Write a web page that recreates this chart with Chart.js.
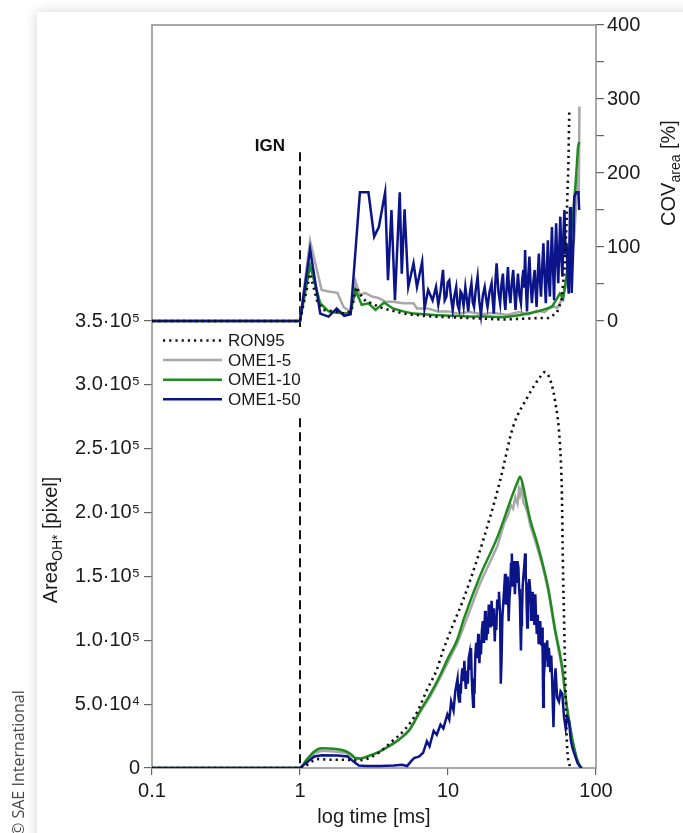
<!DOCTYPE html>
<html>
<head>
<meta charset="utf-8">
<script src="https://cdn.jsdelivr.net/npm/chart.js@4"></script>
<style>
  html, body { margin: 0; padding: 0; background: #fff; }
  #wrap { position: relative; width: 683px; height: 833px; overflow: hidden; background: #fff; }
  #card { position: absolute; left: 37px; top: 12px; width: 720px; height: 900px; background: #fff;
          box-shadow: 0 0 12px rgba(0, 0, 0, 0.17); }
  #chart { position: absolute; left: 0; top: 0; }
  #copy { position: absolute; left: 28px; bottom: -3px; transform-origin: left bottom; transform: rotate(-90deg);
          white-space: nowrap; font: 16px "Open Sans", sans-serif; line-height: 20px; color: #4a4a4a; }
</style>
</head>
<body>
<div id="wrap">
  <div id="card"></div>
  <canvas id="chart" width="683" height="833"></canvas>
  <div id="copy">© SAE International</div>
</div>
<script>
// Осі
const timeTicks = [0.1, 1, 10, 100];
const timeTickLabels = ['0.1', '1', '10', '100'];
const areaTicks = [0, 50000, 100000, 150000, 200000, 250000, 300000, 350000];
const areaTickLabels = ['0', '5.0·10⁴', '1.0·10⁵', '1.5·10⁵', '2.0·10⁵', '2.5·10⁵', '3.0·10⁵', '3.5·10⁵'];
const covTicks = [0, 50, 100, 150, 200, 250, 300, 350, 400];
const covTickLabels = ['0', '', '100', '', '200', '', '300', '', '400'];
const seriesNames = ['RON95', 'OME1-5', 'OME1-10', 'OME1-50'];
const ignTime = 1;
const ignLineTop = 228;

// Area OH* [pixel]
const ron95AreaTime = [0.1, 1.0, 1.1, 1.2, 1.3, 1.6, 2.0, 2.4, 2.8, 3.4, 4.2, 5.1, 6.2, 7.2, 8.4, 9.2, 10.8, 12.6, 15.7, 19.2, 22.5, 27.5, 34.3, 41.8, 45, 49, 52.8, 57, 58.8, 59.7, 61, 62.3, 63.6, 66.7];
const ron95Area = [0, 0, 2000, 5000, 7000, 6500, 6500, 6000, 7000, 12000, 21000, 30000, 44000, 61000, 77000, 91000, 112000, 131000, 163000, 196000, 225000, 267000, 290000, 306000, 310000, 304000, 288000, 254000, 215000, 163000, 110000, 59000, 20000, 0];

const ome5AreaTime = [0.1, 1, 1.1, 1.25, 1.4, 1.7, 2.0, 2.2, 2.35, 2.55, 2.9, 3.4, 4.0, 4.7, 5.5, 6.5, 7.6, 8.8, 10, 11.5, 13, 16.4, 21.6, 24, 25.5, 26.5, 27.5, 28.5, 29.5, 30.2, 30.7, 31.5, 32.3, 33.5, 34.5, 36, 39.6, 44, 47.7, 52.8, 58.9, 63.6, 69, 74, 78, 80];
const ome5Area = [0, 0, 5000, 11500, 13500, 13000, 12000, 10000, 7500, 7500, 9000, 12500, 17500, 22500, 30000, 44000, 56000, 70000, 83000, 97000, 113000, 144000, 174000, 192000, 198000, 206000, 203000, 212000, 207000, 218000, 214000, 220000, 208000, 204000, 200000, 190000, 175000, 156000, 138000, 107000, 78000, 46000, 22000, 7000, 1000, 0];

const ome10AreaTime = [0.1, 1, 1.1, 1.25, 1.4, 1.7, 2.0, 2.2, 2.35, 2.55, 2.9, 3.4, 4.0, 4.7, 5.5, 6.5, 7.6, 8.8, 10, 11.5, 12.9, 16.4, 21.6, 27.5, 29.5, 30.7, 32, 34, 36, 39.6, 44, 47.7, 52.8, 58.9, 63.6, 69, 74, 78, 80];
const ome10Area = [0, 0, 6000, 13000, 15500, 15000, 13500, 11000, 8000, 7500, 9500, 12500, 17000, 22500, 30000, 45000, 58000, 72000, 86000, 100000, 118000, 150000, 181000, 215000, 224000, 228000, 222000, 207000, 194000, 178000, 158000, 140000, 109000, 80000, 48000, 23500, 8000, 1500, 0];

const ome50AreaTime = [
  0.1, 1.0, 1.1, 1.25, 1.4, 1.8, 2.1, 2.3, 2.5, 2.8, 3.5, 4.3, 4.9, 5.3, 5.6, 5.9, 6.4, 6.8, 7.2, 7.5,
  8.0, 8.4, 8.9, 9.3, 9.9, 10.2, 10.5, 10.9, 11.2,
  11.6, 11.75, 11.9, 12.05, 12.2, 12.35, 12.5, 12.7, 12.9, 13.05,
  13.2, 13.4, 13.6, 13.8, 14.0, 14.15, 14.3, 14.45, 14.6, 14.8,
  14.95, 15.1, 15.3, 15.5, 15.75, 16.0, 16.15, 16.3, 16.5, 16.7,
  16.95, 17.2, 17.5, 17.8, 18.0, 18.2, 18.4, 18.6, 18.85, 19.1,
  19.4, 19.7, 19.95, 20.2, 20.45, 20.7, 20.95, 21.2, 21.5, 21.8,
  22.1, 22.5, 22.65, 22.8, 23.0, 23.3, 23.6, 23.95, 24.3, 24.6,
  24.9, 25.3, 25.7, 26.0, 26.3, 26.65, 27.0, 27.3, 27.6, 27.95,
  28.3, 28.65, 29.0, 29.45, 29.9, 30.25, 30.6, 30.85, 31.1, 31.35,
  31.6, 31.95, 32.3, 32.75, 33.2, 33.5, 33.8, 34.05, 34.3, 34.65,
  35.0, 35.45, 35.9, 36.4, 36.9, 37.35, 37.8, 38.35, 38.9, 39.35,
  39.8, 40.4, 41.0, 41.5, 42.0, 42.6, 43.2, 43.6, 44.0, 44.4,
  44.8, 45.2, 45.6, 46.2, 46.8, 47.4, 48.0, 48.6, 49.2, 49.85,
  50.5,
  51.6, 52.4, 53.3, 54.6, 56.2, 57.6, 59.2, 60.8, 62.4, 64.0, 65.7, 67.5, 69.3, 71.0, 73.0, 75.0, 77.0, 80.0
];
const ome50Area = [
  0, 0, 4000, 9000, 10000, 9800, 9000, 5000, 2000, 1500, 1500, 2000, 2500, 1500, 5000, 7800, 9000, 12000, 21000, 17000,
  29000, 26000, 34000, 31000, 42000, 38000, 52000, 45000, 60000,
  70000, 56000, 52000, 66000, 58000, 72000, 78000, 68000, 84000, 70000,
  62000, 76000, 66000, 86000, 90000, 78000, 94000, 72000, 60000, 48000,
  70000, 58000, 88000, 98000, 86000, 105000, 90000, 82000, 100000, 89000,
  108000, 115000, 98000, 123000, 110000, 100000, 118000, 105000, 128000, 122000,
  110000, 131000, 118000, 112000, 125000, 99000, 118000, 108000, 132000, 125000,
  138000, 120000, 95000, 66000, 84000, 118000, 128000, 140000, 152000, 128000,
  135000, 150000, 115000, 132000, 140000, 160000, 168000, 142000, 150000, 162000,
  136000, 150000, 145000, 162000, 157000, 140000, 132000, 110000, 92000, 112000,
  120000, 142000, 150000, 158000, 168000, 150000, 145000, 125000, 110000, 128000,
  131000, 148000, 140000, 116000, 120000, 138000, 128000, 112000, 136000, 118000,
  105000, 120000, 97000, 104000, 115000, 96000, 110000, 90000, 48000, 70000,
  80000, 98000, 84000, 92000, 100000, 80000, 94000, 86000, 75000, 88000,
  70000,
  32000, 65000, 78000, 55000, 52000, 60000, 58000, 40000, 31000, 40000, 37000, 22000, 16000, 12000, 8000, 4000, 2000, 0
];

// COV area [%]
const ron95CovTime = [0.1, 1.0, 1.17, 1.3, 1.44, 1.69, 2.0, 2.22, 2.4, 2.61, 2.8, 3.07, 3.41, 4.0, 5.0, 6.17, 8.0, 13.8, 23.8, 40.6, 47.8, 54.4, 58.5, 61.8, 63.5, 65.1, 66.0];
const ron95Cov = [0, 0, 64, 28, 15, 13, 10, 13, 46, 33, 26, 24, 19, 15, 10, 8, 6, 4, 2, 4, 4, 11, 28, 78, 146, 213, 285];

const ome5CovTime = [0.1, 1.0, 1.17, 1.4, 1.56, 1.79, 1.97, 2.17, 2.37, 2.54, 2.75, 3.07, 3.41, 3.8, 4.24, 4.98, 5.85, 6.17, 7.26, 8.53, 10, 11.8, 14, 17, 20, 25, 30, 35, 40, 45, 50, 55, 59, 62, 65, 68, 71, 73, 75, 76.5, 77.3];
const ome5Cov = [0, 0, 108, 42, 40, 38, 19, 13, 54, 35, 38, 33, 31, 26, 26, 24, 24, 17, 17, 13, 13, 10, 12, 9, 11, 8, 12, 9, 14, 12, 20, 18, 30, 45, 70, 90, 110, 150, 200, 170, 290];

const ome10CovTime = [0.1, 1.0, 1.17, 1.37, 1.56, 1.79, 2.05, 2.2, 2.37, 2.61, 2.9, 3.24, 3.7, 4.24, 4.98, 5.85, 6.87, 8.08, 10.6, 14, 18, 24, 31, 40.6, 50.4, 57, 60, 63.5, 66, 69.7, 72.8, 75.6, 77];
const ome10Cov = [0, 0, 75, 24, 13, 11, 10, 13, 42, 22, 24, 15, 25, 17, 13, 10, 9, 8, 7, 6, 6, 5, 8, 13, 19, 37, 30, 64, 96, 140, 186, 235, 242];

const ome50CovTime = [
  0.1, 1.0, 1.17, 1.37, 1.56, 1.77, 1.99, 2.2, 2.54, 2.9, 3.17, 3.41, 3.76, 3.93, 4.15, 4.38, 4.72, 4.87, 5.09, 5.39,
  5.85, 6.17, 6.69, 6.94, 7.34, 7.87, 8.3,
  8.6, 8.9, 9.25, 9.5, 9.76, 9.95, 10.2, 10.5, 10.76, 11.05,
  11.36, 11.6, 11.9, 12.15, 12.4, 12.75, 13.1, 13.4, 13.7, 14.05,
  14.4, 14.7, 15.0, 15.4, 15.85, 16.25, 16.7, 17.2, 17.7, 18.1,
  18.5, 19.1, 19.7, 20.05, 20.4, 20.85, 21.3, 21.9, 22.5, 23.0,
  23.5, 23.95, 24.4, 24.9, 25.4, 25.9, 26.4, 27.0, 27.6, 28.1,
  28.6, 29.15, 29.7, 30.4, 31.1, 31.7, 32.3, 32.75, 33.2, 33.7,
  34.2, 34.85, 35.5, 36.2, 36.9, 37.7, 38.5, 39.1, 39.7, 40.4,
  41.1, 41.8, 42.5, 43.3, 44.1, 44.95, 45.8, 46.55, 47.3, 48.05,
  48.8, 49.6, 50.4, 51.25, 52.1, 52.95, 53.8, 54.7, 55.6, 56.5,
  57.4, 58.35, 59.3, 60.25, 61.2, 62.25, 63.3, 64.35, 65.4, 66.1,
  66.8, 67.65, 68.5, 69.5, 70.5, 71.3, 73.6, 76.1, 77
];
const ome50Cov = [
  0, 0, 97, 10, 6, 17, 7, 9, 174, 174, 114, 127, 174, 55, 150, 28, 174, 64, 151, 46,
  78, 46, 80, 17, 42, 28, 46,
  22, 40, 69, 28, 33, 52, 55, 30, 15, 34,
  46, 22, 15, 40, 37, 20, 46, 30, 13, 38,
  51, 25, 19, 42, 60, 28, 8, 35, 46, 30,
  19, 40, 51, 28, 10, 50, 78, 40, 24, 50,
  64, 32, 15, 45, 73, 40, 24, 52, 69, 38,
  15, 42, 64, 35, 24, 55, 69, 45, 96, 40,
  13, 60, 87, 48, 24, 52, 69, 40, 19, 62,
  91, 55, 33, 72, 105, 60, 24, 70, 109, 55,
  33, 85, 127, 70, 28, 90, 132, 80, 51, 100,
  141, 85, 60, 118, 150, 90, 105, 60, 37, 100,
  154, 90, 38, 75, 110, 168, 174, 174, 150
];

// Частка висоти під нижній графік (площа) і верхній (COV)
const areaShare = 447 / 743;
const areaAxisMax = 350000 / areaShare;
const covAxisMin = -400 * areaShare / (1 - areaShare);

const FONT = '"Liberation Sans", Arial, sans-serif';
const TEXT = '#1a1a1a';
const colors = { ron95: '#111111', ome5: '#a8a8a8', ome10: '#1f8a1f', ome50: '#0c148a' };

function pts(times, values) {
  return times.map((t, i) => ({ x: t, y: values[i] }));
}

function line(label, times, values, axis, color, dotted, order, smooth) {
  return {
    label: label,
    data: pts(times, values),
    yAxisID: axis,
    borderColor: color,
    borderWidth: dotted ? 2.6 : 2.5,
    borderDash: dotted ? [2.2, 4] : [],
    pointRadius: 0,
    fill: false,
    order: order,
    tension: 0,
    cubicInterpolationMode: smooth ? 'monotone' : 'default'
  };
}

// Текст із нижнім індексом, повернутий на 90°
function rotatedTitle(ctx, baseX, centerY, parts) {
  ctx.save();
  ctx.translate(baseX, centerY);
  ctx.rotate(-Math.PI / 2);
  ctx.textBaseline = 'alphabetic';
  ctx.textAlign = 'left';
  let total = 0;
  parts.forEach(p => { ctx.font = p.size + 'px ' + FONT; total += ctx.measureText(p.text).width; });
  let x = -total / 2;
  parts.forEach(p => {
    ctx.font = p.size + 'px ' + FONT;
    ctx.fillText(p.text, x, p.dy);
    x += ctx.measureText(p.text).width;
  });
  ctx.restore();
}

const overlay = {
  id: 'overlay',
  beforeDatasetsDraw(chart) {
    const { ctx, chartArea: a, scales } = chart;
    ctx.save();
    ctx.strokeStyle = '#8c8c8c';
    ctx.lineWidth = 1.5;
    ctx.strokeRect(a.left, a.top, a.right - a.left, a.bottom - a.top);

    const x = scales.x.getPixelForValue(ignTime);
    const top = scales.yCov.getPixelForValue(ignLineTop);
    ctx.setLineDash([9, 5]);
    ctx.strokeStyle = '#111';
    ctx.lineWidth = 2;
    ctx.beginPath();
    ctx.moveTo(x, top);
    ctx.lineTo(x, scales.yArea.getPixelForValue(0));
    ctx.stroke();
    ctx.setLineDash([]);
    ctx.fillStyle = '#111';
    ctx.font = 'bold 17px ' + FONT;
    ctx.textAlign = 'right';
    ctx.textBaseline = 'alphabetic';
    ctx.fillText('IGN', x - 15, top - 1);
    ctx.restore();
  },
  afterDatasetsDraw(chart) {
    const { ctx, chartArea: a, scales } = chart;
    ctx.save();
    // легенда
    const y0 = scales.yCov.getPixelForValue(0);
    ctx.fillStyle = '#fff';
    ctx.fillRect(a.left + 3, y0 + 6, 152, 88);
    const styles = [
      [colors.ron95, true], [colors.ome5, false], [colors.ome10, false], [colors.ome50, false]
    ];
    seriesNames.forEach((name, i) => {
      const y = y0 + 19.5 + i * 19.6;
      ctx.strokeStyle = styles[i][0];
      ctx.lineWidth = 2.5;
      ctx.setLineDash(styles[i][1] ? [2.2, 4] : []);
      ctx.beginPath();
      ctx.moveTo(a.left + 11, y);
      ctx.lineTo(a.left + 70, y);
      ctx.stroke();
      ctx.setLineDash([]);
      ctx.fillStyle = TEXT;
      ctx.font = '17px ' + FONT;
      ctx.textAlign = 'left';
      ctx.textBaseline = 'middle';
      ctx.fillText(name, a.left + 76, y + 1);
    });

    // підписи осей
    ctx.fillStyle = TEXT;
    ctx.font = '20px ' + FONT;
    ctx.textAlign = 'center';
    ctx.textBaseline = 'alphabetic';
    ctx.fillText('log time [ms]', (a.left + a.right) / 2, 823);
    rotatedTitle(ctx, 57, 540, [
      { text: 'Area', size: 20, dy: 0 },
      { text: 'OH*', size: 14, dy: 5 },
      { text: ' [pixel]', size: 20, dy: 0 }
    ]);
    rotatedTitle(ctx, 675, 173, [
      { text: 'COV', size: 20, dy: 0 },
      { text: 'area', size: 14, dy: 5 },
      { text: ' [%]', size: 20, dy: 0 }
    ]);
    ctx.restore();
  }
};

const tickGrid = { drawOnChartArea: false, drawTicks: true, tickLength: 8, color: '#666', lineWidth: 1.2 };

new Chart(document.getElementById('chart').getContext('2d'), {
  type: 'line',
  data: {
    datasets: [
      line('RON95', ron95AreaTime, ron95Area, 'yArea', colors.ron95, true, 1, true),
      line('OME1-50', ome50AreaTime, ome50Area, 'yArea', colors.ome50, false, 2, false),
      line('OME1-10', ome10AreaTime, ome10Area, 'yArea', colors.ome10, false, 3, true),
      line('OME1-5', ome5AreaTime, ome5Area, 'yArea', colors.ome5, false, 4, false),
      line('RON95', ron95CovTime, ron95Cov, 'yCov', colors.ron95, true, 1, false),
      line('OME1-50', ome50CovTime, ome50Cov, 'yCov', colors.ome50, false, 2, false),
      line('OME1-10', ome10CovTime, ome10Cov, 'yCov', colors.ome10, false, 3, false),
      line('OME1-5', ome5CovTime, ome5Cov, 'yCov', colors.ome5, false, 4, false)
    ]
  },
  options: {
    responsive: false,
    animation: false,
    devicePixelRatio: 1,
    layout: { padding: { top: 25 } },
    plugins: { legend: { display: false }, tooltip: { enabled: false } },
    scales: {
      x: {
        type: 'logarithmic',
        position: 'bottom',
        min: 0.1,
        max: 100,
        afterBuildTicks: s => { s.ticks = timeTicks.map(v => ({ value: v })); },
        afterFit: s => { s.height = 65; },
        grid: Object.assign({}, tickGrid, { tickLength: 7 }),
        border: { display: false },
        ticks: {
          autoSkip: false, maxRotation: 0, padding: 4, color: TEXT,
          font: { size: 20, family: FONT },
          callback: (v, i) => timeTickLabels[i]
        }
      },
      yArea: {
        type: 'linear',
        position: 'left',
        min: 0,
        max: areaAxisMax,
        afterBuildTicks: s => { s.ticks = areaTicks.map(v => ({ value: v })); },
        afterFit: s => { s.width = 152; },
        grid: tickGrid,
        border: { display: false },
        ticks: {
          autoSkip: false, padding: 4, color: TEXT,
          font: { size: 20, family: FONT },
          callback: (v, i) => areaTickLabels[i]
        }
      },
      yCov: {
        type: 'linear',
        position: 'right',
        min: covAxisMin,
        max: 400,
        afterBuildTicks: s => { s.ticks = covTicks.map(v => ({ value: v })); },
        afterFit: s => { s.width = 87; },
        grid: tickGrid,
        border: { display: false },
        ticks: {
          autoSkip: false, padding: 3, color: TEXT,
          font: { size: 20, family: FONT },
          callback: (v, i) => covTickLabels[i]
        }
      }
    }
  },
  plugins: [overlay]
});
</script>
</body>
</html>
